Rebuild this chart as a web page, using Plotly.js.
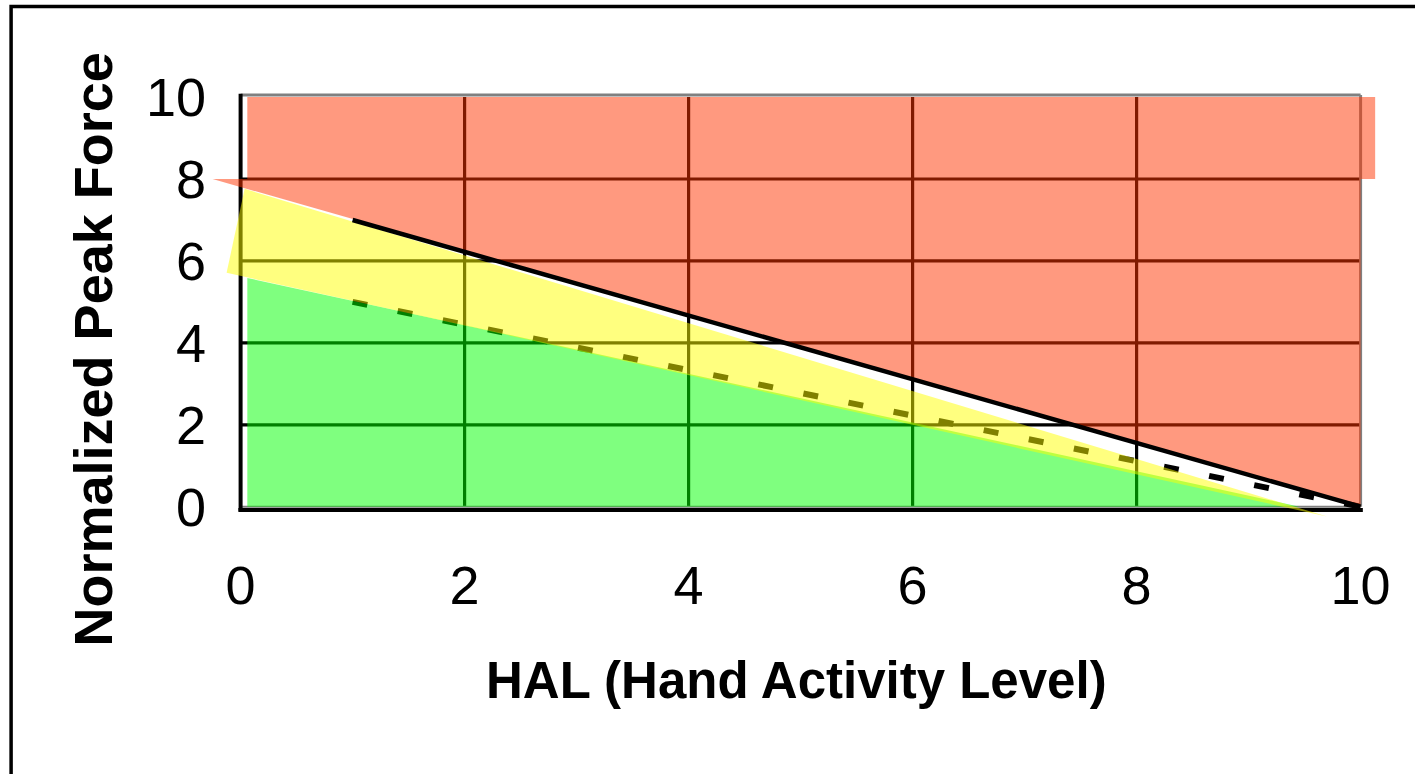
<!DOCTYPE html>
<html>
<head>
<meta charset="utf-8">
<script src="https://cdn.plot.ly/plotly-3.0.1.min.js"></script>
<style>
html,body{margin:0;padding:0;background:#ffffff;}
#chart{width:1415px;height:774px;}
</style>
</head>
<body>
<div id="chart"></div>
<script>
// ---- data ----
const xTickVals = [0, 2, 4, 6, 8, 10];
const xTickText = ['0', '2', '4', '6', '8', '10'];
const yTickVals = [0, 2, 4, 6, 8, 10];
const yTickText = ['0', '2', '4', '6', '8', '10'];

// Threshold limit line (solid)
const tlvHal = [1, 10];
const tlvForce = [7, 0];

// Action limit line (dashed)
const actionHal = [1, 10];
const actionForce = [5, 0];

// Red zone (above the limit)
const redHal = [-0.25, 0.06, 0.06, 10.13, 10.13, 10, 10];
const redForce = [8, 8, 10, 10, 8, 8, 0];

// Yellow zone (between action limit and TLV)
const yellowHal = [0.036, -0.125, 9.70];
const yellowForce = [7.76, 5.71, -0.24];

// Green zone (below action limit)
const greenHal = [0.06, 0.06, 9.455];
const greenForce = [5.585, 0, 0];

// ---- layout geometry ----
const W = 1415, H = 774;
const M = {l: 207.4, r: 31.6, t: 92.9, b: 254.7, pad: 0};
const plotW = W - M.l - M.r, plotH = H - M.t - M.b;
const px2paperX = px => (px - M.l) / plotW;
const px2paperY = py => (H - M.b - py) / plotH;

const FONT = 'Liberation Sans, Arial, sans-serif';

const traces = [
  {x: actionHal, y: actionForce, mode: 'lines', type: 'scatter',
   line: {color: '#000000', width: 6, dash: '15px,31px'}, hoverinfo: 'skip', showlegend: false},
  {x: greenHal, y: greenForce, mode: 'lines', type: 'scatter', fill: 'toself',
   fillcolor: 'rgba(0,255,0,0.5)', line: {width: 0, color: 'rgba(0,0,0,0)'}, hoverinfo: 'skip', showlegend: false},
  {x: yellowHal, y: yellowForce, mode: 'lines', type: 'scatter', fill: 'toself',
   fillcolor: 'rgba(255,255,0,0.5)', line: {width: 0, color: 'rgba(0,0,0,0)'}, hoverinfo: 'skip', showlegend: false},
  {x: redHal, y: redForce, mode: 'lines', type: 'scatter', fill: 'toself',
   fillcolor: 'rgba(255,51,0,0.5)', line: {width: 0, color: 'rgba(0,0,0,0)'}, hoverinfo: 'skip', showlegend: false},
  {x: tlvHal, y: tlvForce, mode: 'lines', type: 'scatter',
   line: {color: '#000000', width: 4.5}, hoverinfo: 'skip', showlegend: false}
];

const shapes = [];
// grid lines (black, tinted by the translucent zones on top)
xTickVals.filter(v => v > 0 && v < 10).forEach(v => shapes.push({
  type: 'line', xref: 'x', yref: 'y', x0: v, x1: v, y0: 0, y1: 10,
  line: {color: '#000000', width: 3.2}, layer: 'below'}));
yTickVals.filter(v => v > 0 && v < 10).forEach(v => shapes.push({
  type: 'line', xref: 'x', yref: 'y', x0: 0, x1: 10, y0: v, y1: v,
  line: {color: '#000000', width: 3.2}, layer: 'below'}));
// plot frame (grey top/right/bottom)
shapes.push({type: 'line', xref: 'x', yref: 'y', x0: 0, x1: 10, y0: 10.05, y1: 10.05,
  line: {color: '#808080', width: 3}, layer: 'below'});
shapes.push({type: 'line', xref: 'x', yref: 'y', x0: 10, x1: 10, y0: 0, y1: 10.05,
  line: {color: '#808080', width: 3}, layer: 'below'});
shapes.push({type: 'line', xref: 'x', yref: 'y', x0: 0, x1: 10, y0: 0, y1: 0,
  line: {color: '#808080', width: 2}, layer: 'below'});
// black axes (left & bottom)
shapes.push({type: 'line', xref: 'x', yref: 'y', x0: 0, x1: 0, y0: -0.1, y1: 10.08,
  line: {color: '#000000', width: 4}, layer: 'below'});
shapes.push({type: 'line', xref: 'x', yref: 'y', x0: -0.02, x1: 10.02, y0: -0.08, y1: -0.08,
  line: {color: '#000000', width: 4}, layer: 'below'});
// outer chart frame
shapes.push({type: 'rect', xref: 'paper', yref: 'paper',
  x0: px2paperX(11.5), x1: px2paperX(1430), y0: px2paperY(790), y1: px2paperY(6.2),
  line: {color: '#000000', width: 3.5}, fillcolor: 'rgba(0,0,0,0)', layer: 'above'});

const layout = {
  width: W, height: H, autosize: false,
  margin: M,
  paper_bgcolor: '#ffffff', plot_bgcolor: 'rgba(0,0,0,0)',
  showlegend: false,
  font: {family: FONT, color: '#000000'},
  xaxis: {
    range: [-0.3, 10.2], showgrid: false, zeroline: false, showline: false,
    tickmode: 'array', tickvals: xTickVals, ticktext: xTickText,
    ticks: 'outside', ticklen: 19, tickcolor: 'rgba(0,0,0,0)', tickwidth: 1,
    tickfont: {family: FONT, size: 54, color: '#000000'}, fixedrange: true
  },
  yaxis: {
    range: [-0.3, 10.1], showgrid: false, zeroline: false, showline: false,
    tickmode: 'array', tickvals: yTickVals, ticktext: yTickText,
    ticks: '', tickfont: {family: FONT, size: 54, color: '#000000'}, fixedrange: true
  },
  shapes: shapes,
  annotations: [
    {text: '<b>HAL (Hand Activity Level)</b>', xref: 'paper', yref: 'paper',
     x: px2paperX(797), y: px2paperY(681), xanchor: 'center', yanchor: 'middle',
     showarrow: false, font: {family: FONT, size: 51, color: '#000000'}},
    {text: '<b>Normalized Peak Force</b>', xref: 'paper', yref: 'paper',
     x: px2paperX(93), y: px2paperY(350), xanchor: 'center', yanchor: 'middle',
     textangle: -90, showarrow: false, font: {family: FONT, size: 54, color: '#000000'}}
  ]
};

Plotly.newPlot('chart', traces, layout, {staticPlot: true, displayModeBar: false});
</script>
</body>
</html>
